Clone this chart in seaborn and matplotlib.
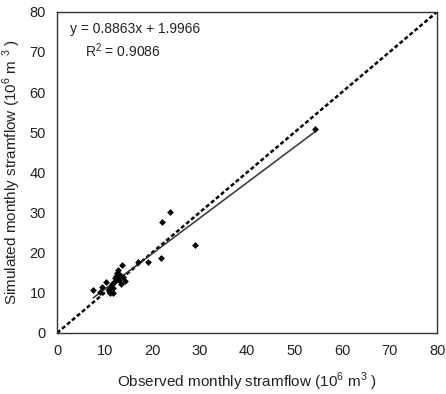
import matplotlib
matplotlib.use("Agg")
import matplotlib.pyplot as plt
import seaborn as sns
import numpy as np
import pandas as pd

observed = [7.6, 9.1, 9.5, 10.3, 11.2, 11.8, 11.6, 12.2, 12.6, 13.7, 13.3, 13.9, 12.8,
            11.2, 11.8, 11.0, 12.0, 13.0, 12.4, 14.2, 13.5, 17.0, 19.2, 21.9, 22.1,
            23.8, 29.0, 54.3]
simulated = [10.7, 10.2, 11.5, 12.7, 11.2, 11.2, 12.2, 13.7, 15.0, 17.0, 14.5, 14.0, 15.7,
             10.0, 10.0, 10.5, 12.8, 13.2, 14.2, 13.0, 12.3, 17.7, 17.7, 18.7, 27.7,
             30.2, 22.0, 50.9]
slope = 0.8863
intercept = 1.9966
r2 = 0.9086
ticks = [0, 10, 20, 30, 40, 50, 60, 70, 80]

sns.set_style("white")
plt.rcParams['font.family'] = ['Liberation Sans', 'DejaVu Sans']
plt.rcParams['mathtext.fontset'] = 'custom'
plt.rcParams['mathtext.rm'] = 'Liberation Sans'

fig = plt.figure(figsize=(4.46, 3.94), dpi=100)
ax = fig.add_axes([0.128, 0.155, 0.852, 0.815])

df = pd.DataFrame({"obs": observed, "sim": simulated})
sns.scatterplot(data=df, x="obs", y="sim", ax=ax, color="black", s=12, marker="D",
                edgecolor="black", linewidth=0, zorder=3)

one = pd.DataFrame({"x": [0, 80], "y": [0, 80]})
sns.lineplot(data=one, x="x", y="y", ax=ax, color="black", linewidth=1.8,
             linestyle=(0, (1.6, 1.0)), zorder=2)

xr = np.array([min(observed), max(observed)])
reg = pd.DataFrame({"x": xr, "y": slope * xr + intercept})
sns.lineplot(data=reg, x="x", y="y", ax=ax, color="#333333", linewidth=1.1, zorder=2)

ax.set_xlim(0, 80)
ax.set_ylim(0, 80)
ax.set_xticks(ticks)
ax.set_yticks(ticks)
ax.tick_params(direction="in", length=3, width=0.8, labelsize=10.5, colors="#222222",
               pad=8)
for s in ax.spines.values():
    s.set_color("#333333")
    s.set_linewidth(1.0)

ax.set_xlabel("Observed monthly stramflow (10$^6$ m$^3$ )", fontsize=11, labelpad=9,
              color="#222222")
ax.set_ylabel("Simulated monthly stramflow (10$^6$ m $^3$ )", fontsize=11, labelpad=5,
              color="#222222")

ax.text(2.7, 75.8, f"y = {slope}x + {intercept}", fontsize=10, ha="left", va="center",
        color="#222222")
ax.text(13.8, 70.2, f"R$^2$ = {r2}", fontsize=10, ha="center", va="center",
        color="#222222")

fig.savefig("out.png", dpi=100)
